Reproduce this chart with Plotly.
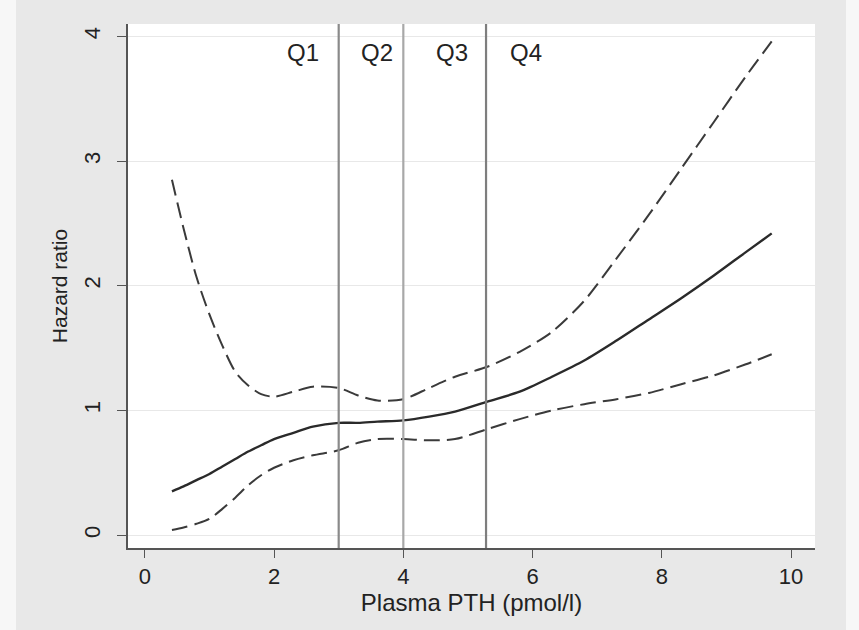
import plotly.graph_objects as go

# ---- data ----
pth = [0.42, 0.6, 0.8, 1.0, 1.2, 1.4, 1.6, 1.8, 2.0, 2.3, 2.6, 3.0, 3.3, 3.6,
       4.0, 4.4, 4.8, 5.3, 5.8, 6.3, 6.8, 7.3, 7.8, 8.3, 8.8, 9.3, 9.7]
hr_upper = [2.85, 2.46, 2.07, 1.77, 1.52, 1.31, 1.20, 1.13, 1.11, 1.15, 1.19, 1.18, 1.12, 1.08,
            1.09, 1.18, 1.27, 1.35, 1.47, 1.63, 1.88, 2.22, 2.57, 2.94, 3.31, 3.68, 3.96]
hr_est = [0.35, 0.39, 0.44, 0.49, 0.55, 0.61, 0.67, 0.72, 0.77, 0.82, 0.87, 0.90, 0.90, 0.91,
          0.92, 0.95, 0.99, 1.07, 1.15, 1.27, 1.40, 1.56, 1.73, 1.90, 2.08, 2.27, 2.42]
hr_lower = [0.04, 0.06, 0.09, 0.13, 0.21, 0.30, 0.40, 0.48, 0.54, 0.60, 0.64, 0.68, 0.74, 0.77,
            0.77, 0.76, 0.77, 0.85, 0.93, 1.00, 1.05, 1.09, 1.14, 1.21, 1.28, 1.37, 1.45]

quartile_cuts = [3.0, 4.0, 5.28]
quartile_labels = ["Q1", "Q2", "Q3", "Q4"]
quartile_label_x = [2.44, 3.60, 4.75, 5.90]
quartile_label_y = 3.87

x_ticks = [0, 2, 4, 6, 8, 10]
y_ticks = [0, 1, 2, 3, 4]

FONT = "Liberation Sans, Arial, Helvetica, sans-serif"

fig = go.Figure()
fig.add_trace(go.Scatter(x=pth, y=hr_upper, mode="lines", line=dict(color="#3a3a3a", width=2, dash="16px,7px", shape="spline", smoothing=0.8), showlegend=False))
fig.add_trace(go.Scatter(x=pth, y=hr_est, mode="lines", line=dict(color="#2a2a2a", width=2.4, shape="spline", smoothing=0.8), showlegend=False))
fig.add_trace(go.Scatter(x=pth, y=hr_lower, mode="lines", line=dict(color="#3a3a3a", width=2, dash="16px,7px", shape="spline", smoothing=0.8), showlegend=False))

line_colors = ["#8a8a8a", "#a8a8a8", "#7e7e7e"]
for xc, lc in zip(quartile_cuts, line_colors):
    fig.add_shape(type="line", xref="x", yref="paper", x0=xc, x1=xc, y0=0, y1=1,
                  line=dict(color=lc, width=2.2), layer="above")

for lab, lx in zip(quartile_labels, quartile_label_x):
    fig.add_annotation(x=lx, y=quartile_label_y, xref="x", yref="y", text=lab, showarrow=False,
                       font=dict(family=FONT, size=24, color="#222"), xanchor="center", yanchor="middle")

# light strips at the outer edges of the gray frame
fig.add_shape(type="rect", xref="paper", yref="paper", x0=-128/687, x1=-112/687, y0=-0.2, y1=1.1,
              fillcolor="#f7f7f7", line=dict(width=0), layer="below")
fig.add_shape(type="rect", xref="paper", yref="paper", x0=(846-128)/687, x1=(859-128)/687, y0=-0.2, y1=1.1,
              fillcolor="#f7f7f7", line=dict(width=0), layer="below")

fig.update_xaxes(range=[-0.26, 10.37], tickvals=x_ticks, showgrid=False, zeroline=False,
                 showline=True, linecolor="#555", linewidth=1.5, ticks="outside", ticklen=8,
                 tickcolor="#555", tickfont=dict(family=FONT, size=22, color="#222"),
                 title=dict(text="Plasma PTH (pmol/l)", font=dict(family=FONT, size=24, color="#222"), standoff=1))
fig.update_yaxes(range=[-0.104, 4.10], tickvals=y_ticks, showgrid=True, gridcolor="#e8e8e8", gridwidth=1,
                 zeroline=False, showline=True, linecolor="#555", linewidth=1.5, ticks="outside", ticklen=9,
                 tickcolor="#555", tickangle=-90, ticklabelstandoff=8,
                 tickfont=dict(family=FONT, size=22, color="#222"),
                 title=dict(text="Hazard ratio", font=dict(family=FONT, size=21, color="#222"), standoff=7))

fig.update_layout(width=859, height=630, margin=dict(l=128, r=44, t=24, b=82, autoexpand=False),
                  paper_bgcolor="#e8e8e8", plot_bgcolor="white", showlegend=False)

fig.write_html("out.html")
